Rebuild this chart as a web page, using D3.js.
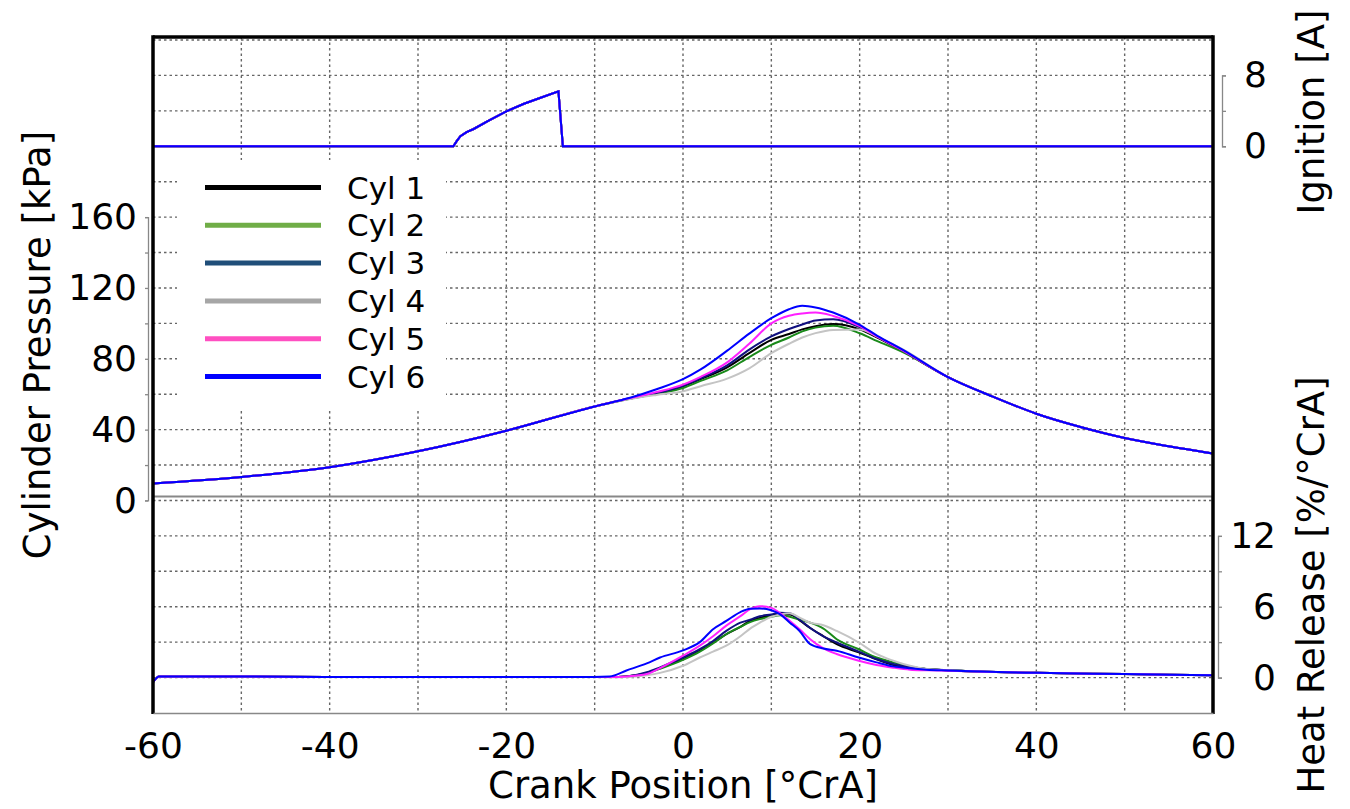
<!DOCTYPE html>
<html lang="en">
<head>
<meta charset="UTF-8">
<title>Cylinder pressure, heat release and ignition</title>
<script src="https://d3js.org/d3.v7.min.js"></script>
<style>
  body { margin: 0; background: #fff; }
  svg { display: block; font-family: "DejaVu Sans", Verdana, sans-serif; }
</style>
</head>
<body>
<svg width="1350" height="809"></svg>
<script>
// ---- data ----
const cylNames = ["Cyl 1", "Cyl 2", "Cyl 3", "Cyl 4", "Cyl 5", "Cyl 6"];
const legendColors = ["#000000", "#70ad47", "#1f4e79", "#a6a6a6", "#ff4fc1", "#0000ff"];
const lineColors = ["#000000", "#1a8a1a", "#101080", "#c4c4c4", "#ff20ff", "#0000ff"];

// ignition current [A]
const ignCrank = [-60, -26, -25.6, -25.2, -24.5, -23.7, -22, -20, -18, -16.2, -14.1, -13.6, 60];
const ignCurrent = [0, 0, 0.6, 1.13, 1.6, 1.95, 2.9, 3.94, 4.8, 5.45, 6.2, 0, 0];

// cylinder pressure [kPa]
const presCrank = [-60, -50, -40, -30, -20, -10, -6, -3, 0, 2, 5, 7.5, 10, 12, 13.5, 15, 17, 20, 22, 25, 30, 35, 40, 45, 50, 55, 60];
const presCyl1 = [9.6, 13.3, 18.8, 27.8, 39.4, 53.1, 57.6, 60.4, 64.5, 68.5, 75.2, 83.2, 90.7, 94, 96.6, 98.4, 99.6, 96.6, 92, 84, 69.7, 58.8, 49, 41.5, 35.3, 30.6, 26.5];
const presCyl2 = [9.6, 13.3, 18.8, 27.8, 39.4, 53.1, 57.4, 60.2, 63.5, 67.5, 73.5, 81, 87.9, 92, 95.5, 97.6, 98.6, 94.4, 90, 83.5, 69.7, 58.8, 49, 41.5, 35.3, 30.6, 26.5];
const presCyl3 = [9.6, 13.3, 18.8, 27.8, 39.4, 53.1, 57.7, 60.6, 64.8, 69, 76.3, 85.2, 92.6, 96.8, 99.4, 101.6, 102.3, 97.8, 92.5, 84.3, 69.7, 58.8, 49, 41.5, 35.3, 30.6, 26.5];
const presCyl4 = [9.6, 13.3, 18.8, 27.8, 39.4, 53.1, 57.3, 59.6, 61.6, 64.5, 68.8, 74.6, 83.2, 88.5, 92, 94.5, 96.3, 96.6, 92.5, 85, 69.7, 58.8, 49, 41.5, 35.3, 30.6, 26.5];
const presCyl5 = [9.6, 13.3, 18.8, 27.8, 39.4, 53.1, 57.8, 61.2, 65.4, 69.8, 78, 88.5, 100, 104.3, 105.6, 106.1, 104.2, 98.5, 92.5, 84.3, 69.7, 58.8, 49, 41.5, 35.3, 30.6, 26.5];
const presCyl6 = [9.6, 13.3, 18.8, 27.8, 39.4, 53.1, 58, 62.8, 68.5, 74, 84.6, 94.2, 102.9, 108, 109.9, 109, 106.1, 99.2, 93, 84.8, 69.7, 58.8, 49, 41.5, 35.3, 30.6, 26.5];

// heat release [%/°CrA]
const hrCrank = [-60, -59.3, -50, -40, -30, -20, -12, -8.3, -6.4, -4.1, -2.6, 0, 1.9, 3.4, 4.9, 6.5, 7.6, 8.7, 10, 11, 12.1, 13.2, 14.4, 15.9, 17.4, 19.9, 21.9, 23.8, 25.7, 27.6, 30, 40, 50, 60];
const hrStart = [-0.4, 0.1, 0.1, 0.05, 0.05, 0.05, 0.05];
const hrEnd = [0.4, 0.3, 0.2];
const hrCyl1 = [0.05, 0.1, 0.4, 0.8, 1.57, 2.27, 2.95, 3.67, 4.3, 4.8, 5.05, 5.27, 5.33, 5.35, 4.85, 4.2, 3.5, 2.83, 2.13, 1.55, 1.07, 0.85, 0.73, 0.62];
const hrCyl2 = [0.05, 0.1, 0.38, 0.75, 1.5, 2.2, 2.9, 3.67, 4.3, 4.7, 4.95, 5.15, 5.27, 5.15, 4.9, 4.65, 4.15, 3.25, 2.4, 1.7, 1.29, 0.95, 0.73, 0.62];
const hrCyl3 = [0.05, 0.1, 0.45, 0.87, 1.7, 2.4, 3.1, 3.95, 4.65, 4.9, 5.2, 5.35, 5.5, 5.45, 4.9, 4.2, 3.5, 2.97, 2.2, 1.57, 1.15, 0.87, 0.73, 0.62];
const hrCyl4 = [0.03, 0.05, 0.2, 0.4, 1.0, 1.7, 2.2, 2.7, 3.5, 4.15, 4.65, 5.15, 5.35, 5.45, 5.07, 4.65, 4.43, 3.95, 2.97, 2.0, 1.43, 1.0, 0.73, 0.62];
const hrCyl5 = [0.05, 0.1, 0.3, 0.8, 1.85, 2.7, 3.5, 4.4, 5.2, 5.8, 6.05, 5.9, 5.45, 4.8, 4.1, 3.25, 2.47, 2.0, 1.43, 1.07, 0.84, 0.67, 0.62, 0.58];
const hrCyl6 = [0.1, 0.6, 1.2, 1.7, 2.3, 3.0, 4.1, 4.8, 5.55, 5.83, 5.86, 5.7, 5.35, 4.65, 3.95, 2.83, 2.47, 2.27, 1.7, 1.29, 0.95, 0.78, 0.67, 0.6];

const xTicks = [-60, -40, -20, 0, 20, 40, 60];
const presTicks = [0, 20, 40, 60, 80, 100, 120, 140, 160];
const ignTicks = [0, 4, 8];
const hrTicks = [0, 3, 6, 9, 12];

const presSeries = [presCyl1, presCyl2, presCyl3, presCyl4, presCyl5, presCyl6];
const hrSeries = [hrCyl1, hrCyl2, hrCyl3, hrCyl4, hrCyl5, hrCyl6].map(v => hrStart.concat(v, hrEnd));

// ---- layout ----
const svg = d3.select("svg");
const plotLeft = 153, plotRight = 1213, plotTop = 37, plotBottom = 713;
const unit = (plotBottom - 40) / 19; // one grid step

const x = d3.scaleLinear().domain([-60, 60]).range([plotLeft, plotRight]);
const yP = d3.scaleLinear().domain([0, 160]).range([plotBottom - 6 * unit, plotBottom - 14 * unit]);
const yI = d3.scaleLinear().domain([0, 8]).range([plotBottom - 16 * unit, plotBottom - 18 * unit]);
const yH = d3.scaleLinear().domain([0, 12]).range([plotBottom - unit, plotBottom - 5 * unit]);

svg.append("clipPath").attr("id", "plot")
  .append("rect").attr("x", plotLeft).attr("y", plotTop)
  .attr("width", plotRight - plotLeft).attr("height", plotBottom - plotTop);

// grid
const grid = svg.append("g").attr("stroke", "#666").attr("stroke-width", 1.4).attr("stroke-dasharray", "2.5,3");
grid.selectAll("line.h").data(d3.range(1, 20)).enter().append("line")
  .attr("x1", plotLeft).attr("x2", plotRight)
  .attr("y1", k => plotBottom - k * unit).attr("y2", k => plotBottom - k * unit);
grid.selectAll("line.v").data(d3.range(-50, 51, 10)).enter().append("line")
  .attr("x1", d => x(d)).attr("x2", d => x(d))
  .attr("y1", plotTop).attr("y2", plotBottom);

// separator under pressure panel
svg.append("line").attr("x1", plotLeft).attr("x2", plotRight)
  .attr("y1", yP(0) - 4).attr("y2", yP(0) - 4)
  .attr("stroke", "#888").attr("stroke-width", 2);

// curves
const plot = svg.append("g").attr("clip-path", "url(#plot)").attr("fill", "none").attr("stroke-width", 2);

const presLine = d3.line().x((d, i) => x(presCrank[i])).y(d => yP(d)).curve(d3.curveMonotoneX);
const hrLine = d3.line().x((d, i) => x(hrCrank[i])).y(d => yH(d)).curve(d3.curveMonotoneX);
const ignLine = d3.line().x((d, i) => x(ignCrank[i])).y(d => yI(d));

presSeries.forEach((s, i) => {
  plot.append("path").attr("d", presLine(s)).attr("stroke", lineColors[i]);
});
hrSeries.forEach((s, i) => {
  plot.append("path").attr("d", hrLine(s)).attr("stroke", lineColors[i]);
});
cylNames.forEach((n, i) => {
  plot.append("path").attr("d", ignLine(ignCurrent)).attr("stroke", lineColors[i]);
});

// frame
const frame = svg.append("g").attr("stroke", "#000").attr("stroke-width", 3.5);
frame.append("line").attr("x1", plotLeft).attr("x2", plotLeft).attr("y1", plotTop - 1.75).attr("y2", plotBottom + 1);
frame.append("line").attr("x1", plotRight).attr("x2", plotRight).attr("y1", plotTop - 1.75).attr("y2", plotBottom + 1);
frame.append("line").attr("x1", plotLeft).attr("x2", plotRight).attr("y1", plotTop).attr("y2", plotTop);

// axes
const xAxis = svg.append("g").attr("transform", `translate(0,${plotBottom})`)
  .call(d3.axisBottom(x).tickValues(xTicks).tickSize(0).tickPadding(19).tickFormat(d => String(d)));
xAxis.select(".domain").attr("stroke", "#888").attr("stroke-width", 1.5);
xAxis.selectAll("text").attr("font-size", 36).attr("fill", "#000").attr("font-family", "DejaVu Sans");

const pAxis = svg.append("g").attr("transform", "translate(148,0)")
  .call(d3.axisLeft(yP).tickValues(presTicks).tickSize(3).tickSizeOuter(3).tickPadding(8)
    .tickFormat(d => d % 40 === 0 ? String(d) : ""));
const iAxis = svg.append("g").attr("transform", "translate(1222,0)")
  .call(d3.axisRight(yI).tickValues(ignTicks).tickSize(4).tickSizeOuter(4).tickPadding(18)
    .tickFormat(d => d === 4 ? "" : String(d)));
const hAxis = svg.append("g").attr("transform", "translate(1218,0)")
  .call(d3.axisRight(yH).tickValues(hrTicks).tickSize(4).tickSizeOuter(4)
    .tickFormat(d => d % 6 === 0 ? String(d) : ""));
hAxis.selectAll("text").attr("x", 58).attr("text-anchor", "end");

[pAxis, iAxis, hAxis].forEach(a => {
  a.selectAll(".domain, line").attr("stroke", "#888").attr("stroke-width", 1.3);
  a.selectAll("text").attr("font-size", 36).attr("fill", "#000").attr("font-family", "DejaVu Sans");
});

// titles
const title = (t, tx, ty, rot) => svg.append("text")
  .attr("transform", `translate(${tx},${ty}) rotate(${rot})`)
  .attr("text-anchor", "middle").attr("font-size", 37).attr("fill", "#000").text(t);
title("Crank Position [°CrA]", (plotLeft + plotRight) / 2, 798, 0);
title("Cylinder Pressure [kPa]", 50, 345, -90);
title("Ignition [A]", 1324, 112, -90);
title("Heat Release [%/°CrA]", 1324, 585, -90);

// legend
const legend = svg.append("g");
legend.append("rect").attr("x", 177).attr("y", 160).attr("width", 269).attr("height", 248).attr("fill", "#fff");
const rowY = d3.scaleLinear().domain([0, 5]).range([187.5, 376.5]);
cylNames.forEach((n, i) => {
  legend.append("line").attr("x1", 205).attr("x2", 321)
    .attr("y1", rowY(i)).attr("y2", rowY(i))
    .attr("stroke", legendColors[i]).attr("stroke-width", 5);
  legend.append("text").attr("x", 347).attr("y", rowY(i) + 11)
    .attr("font-size", 31).attr("fill", "#000").text(n);
});
</script>
</body>
</html>
